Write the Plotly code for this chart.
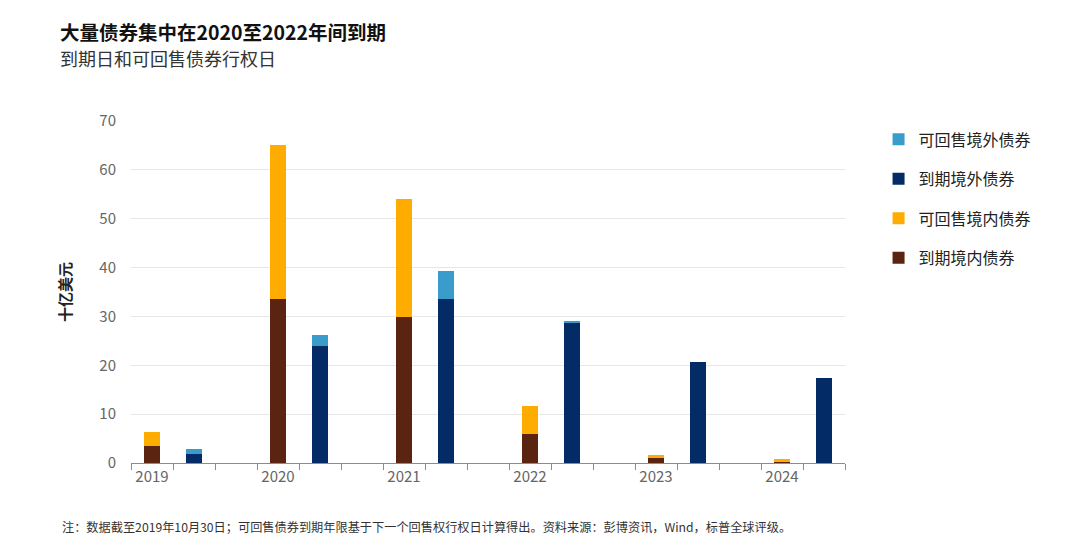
import plotly.graph_objects as go

years = ["2019", "2020", "2021", "2022", "2023", "2024"]
dom_maturity = [3.5, 33.6, 29.8, 5.9, 1.1, 0.3]
dom_putable = [2.8, 31.4, 24.3, 5.8, 0.6, 0.5]
off_maturity = [1.8, 23.9, 33.6, 28.8, 20.6, 17.4]
off_putable = [1.1, 2.2, 5.7, 0.2, 0.0, 0.0]

names = ["到期境内债券", "可回售境内债券", "到期境外债券", "可回售境外债券"]
colors = ["#5A2410", "#FFAC00", "#032B66", "#3A9CCB"]

FONT = "Noto Sans CJK SC"

# slot positions: domestic bar at 3*i, offshore bar at 3*i+1
dom_x = [3 * i for i in range(len(years))]
off_x = [3 * i + 1 for i in range(len(years))]

fig = go.Figure()
series = [
    (dom_x, dom_maturity, names[0], colors[0], 4),
    (dom_x, dom_putable, names[1], colors[1], 3),
    (off_x, off_maturity, names[2], colors[2], 2),
    (off_x, off_putable, names[3], colors[3], 1),
]
for xs, ys, nm, col, rank in series:
    fig.add_trace(go.Bar(
        x=xs, y=ys, name=nm, width=0.4,
        marker=dict(color=col, line=dict(width=0)),
        legendgroup=nm, legendrank=rank,
    ))

PW, PH = 714, 342
L, T = 123, 113

def px(x):
    return (x - 8 - L) / PW

def py(y):
    return (T + PH - (y - 8)) / PH

fig.update_layout(
    barmode="stack",
    width=1080, height=545,
    margin=dict(l=L, r=1080 - L - PW, t=T, b=545 - T - PH),
    paper_bgcolor="white", plot_bgcolor="white",
    font=dict(family=FONT, color="#333333"),
    showlegend=True,
    legend=dict(
        x=1.047, xanchor="left", y=0.996, yanchor="top",
        font=dict(size=16, color="#222222", family=FONT),
        tracegroupgap=15.7, traceorder="grouped",
        bgcolor="rgba(0,0,0,0)",
    ),
    xaxis=dict(
        range=[-0.5, 16.5],
        tickmode="array", tickvals=dom_x, ticktext=years,
        ticks="", showgrid=False, zeroline=False,
        showline=True, linecolor="#8c8c8c", linewidth=1,
        tickfont=dict(size=15, color="#666666", family=FONT),
        minor=dict(tickmode="linear", tick0=-0.5, dtick=1, ticks="outside",
                   ticklen=6, tickcolor="#8c8c8c", showgrid=False),
    ),
    yaxis=dict(
        range=[0, 70], tickmode="linear", tick0=0, dtick=10,
        showgrid=True, gridcolor="#e6e6e6", gridwidth=1,
        zeroline=False, showline=False, ticks="",
        tickfont=dict(size=15, color="#666666", family=FONT),
        ticklabelstandoff=14,
        title=dict(text="<b>十亿美元</b>", font=dict(size=15, color="#222222", family=FONT),
                   standoff=24),
    ),
)

fig.add_annotation(
    xref="paper", yref="paper", x=px(58), y=py(31),
    xanchor="left", yanchor="middle", showarrow=False,
    text="<b>大量债券集中在2020至2022年间到期</b>",
    font=dict(size=19.5, color="#111111", family=FONT),
)
fig.add_annotation(
    xref="paper", yref="paper", x=px(58), y=py(58),
    xanchor="left", yanchor="middle", showarrow=False,
    text="到期日和可回售债券行权日",
    font=dict(size=18, color="#333333", family=FONT),
)
fig.add_annotation(
    xref="paper", yref="paper", x=px(60), y=py(527),
    xanchor="left", yanchor="middle", showarrow=False,
    text="注：数据截至2019年10月30日；可回售债券到期年限基于下一个回售权行权日计算得出。资料来源：彭博资讯，Wind，标普全球评级。",
    font=dict(size=12.2, color="#333333", family=FONT),
)

fig.write_html("out.html")
